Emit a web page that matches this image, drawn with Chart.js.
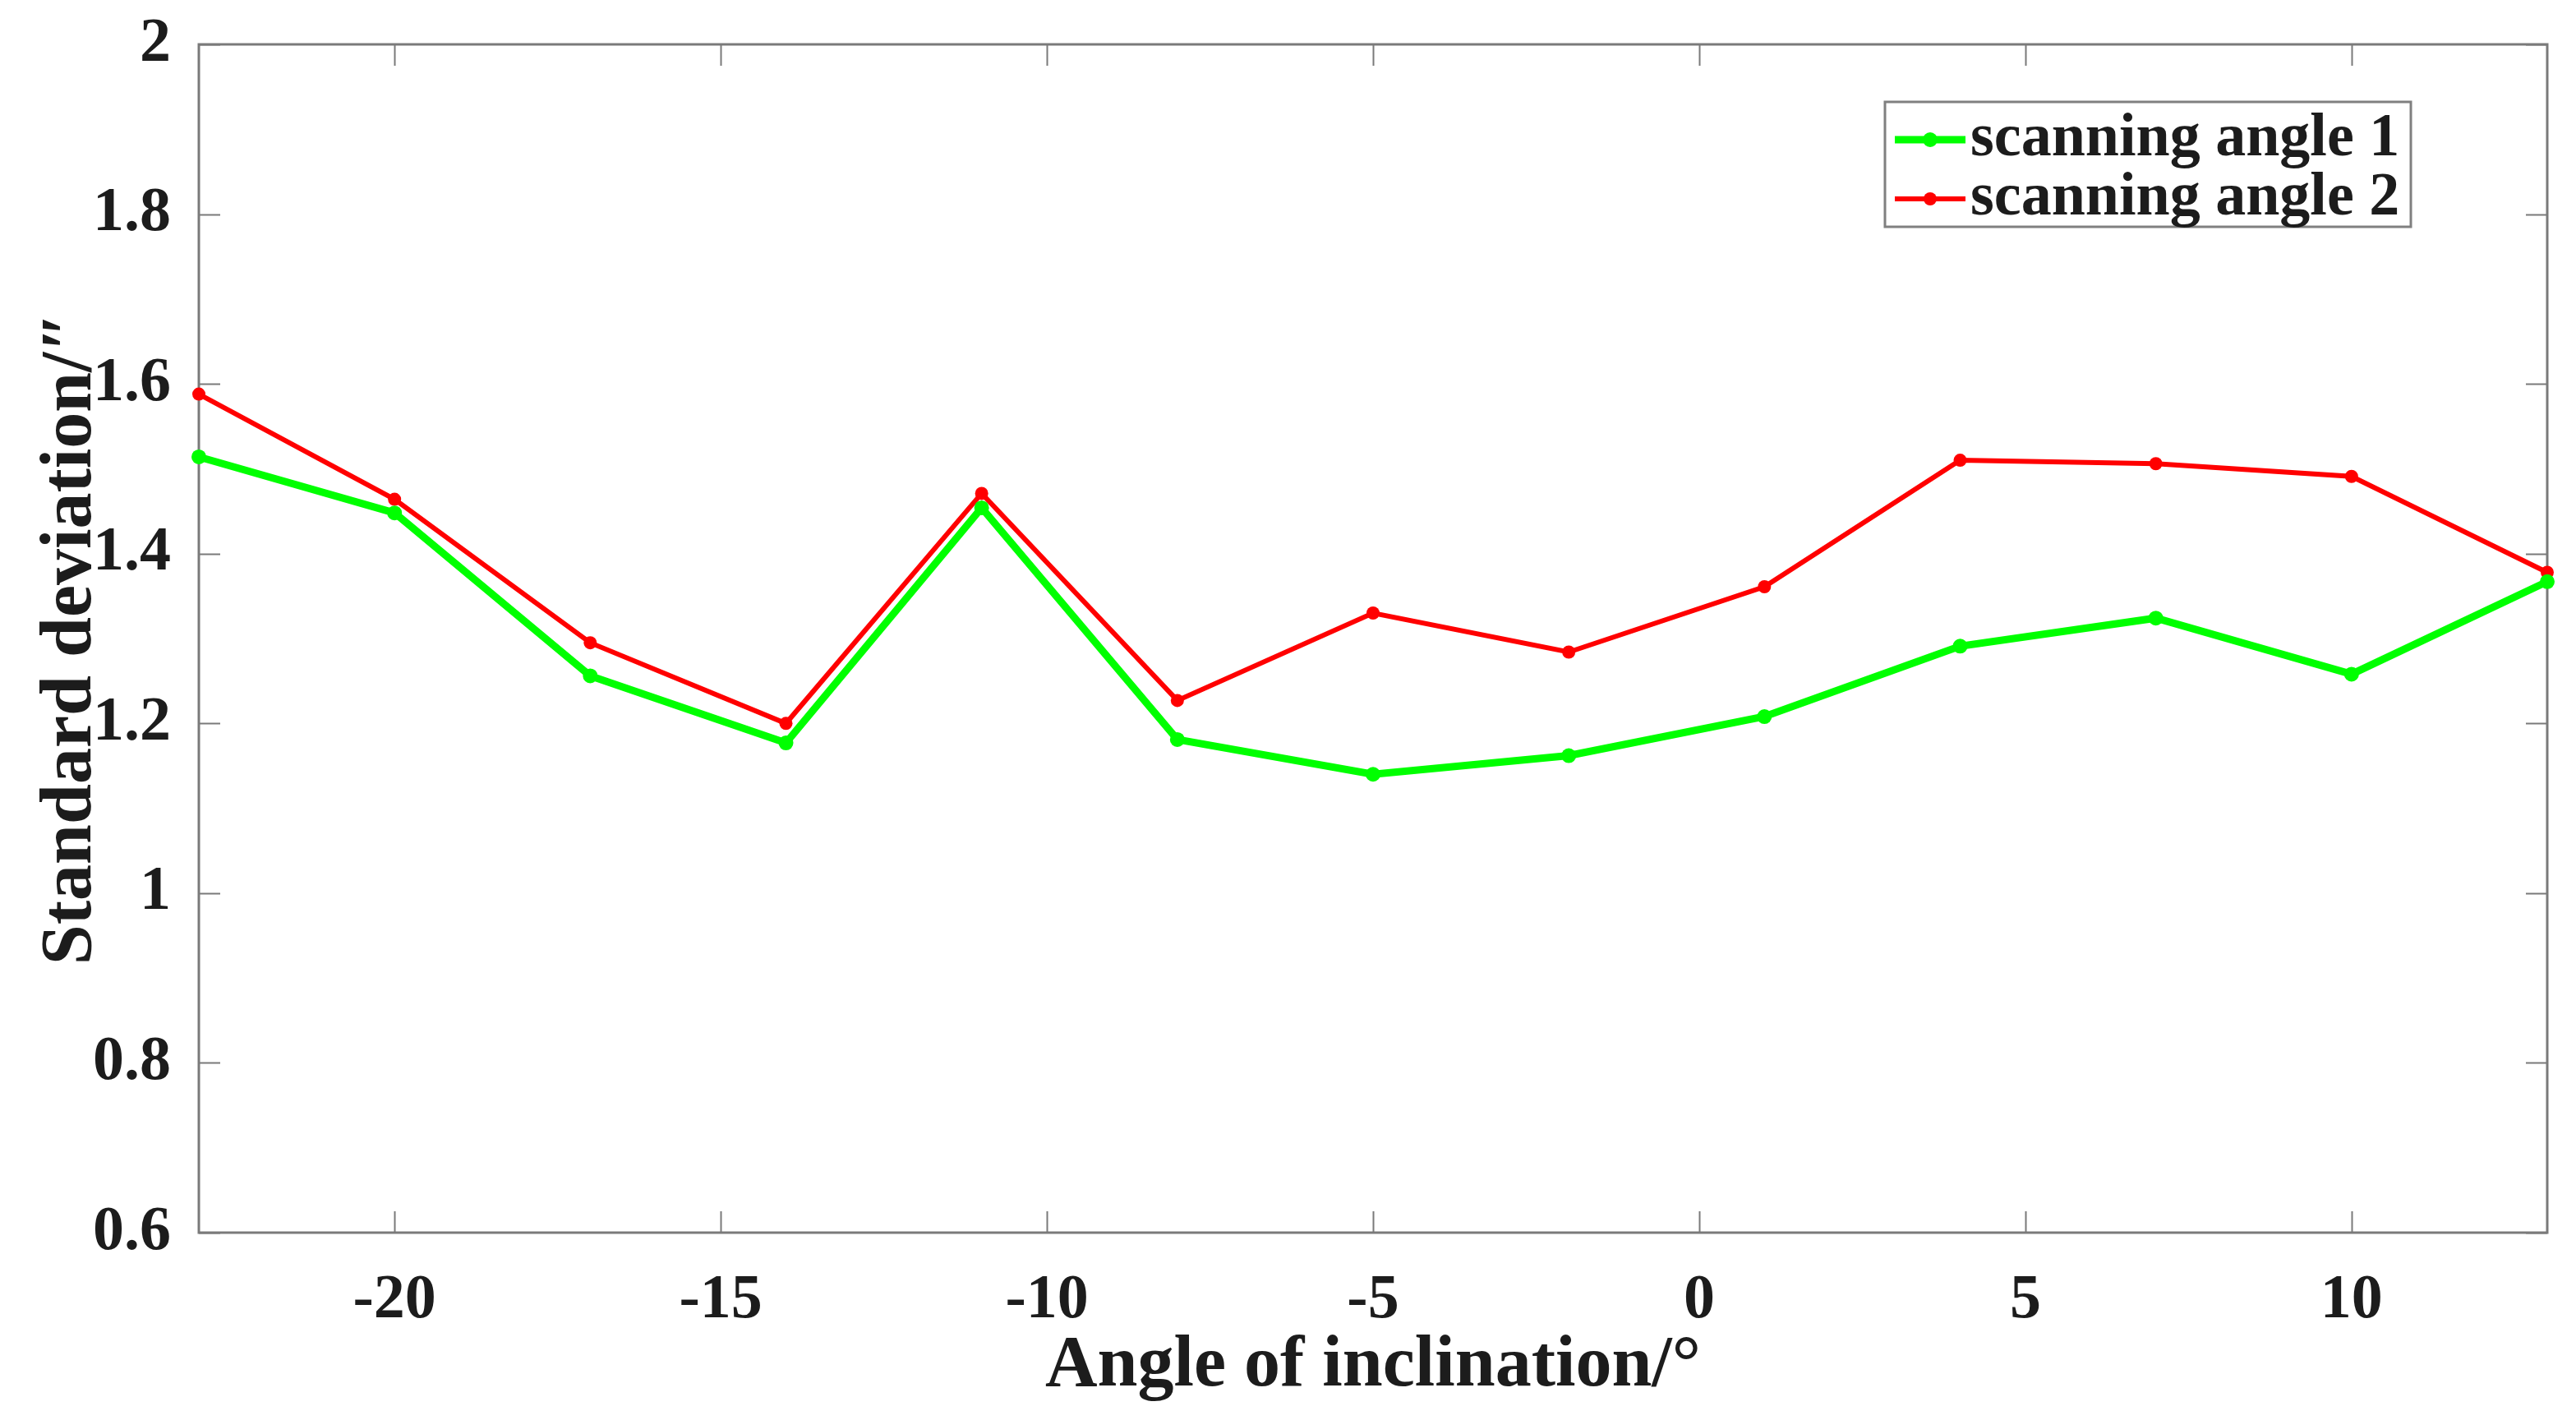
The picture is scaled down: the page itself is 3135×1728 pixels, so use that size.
<!DOCTYPE html>
<html>
<head>
<meta charset="utf-8">
<script src="https://cdn.jsdelivr.net/npm/chart.js@4.4.1/dist/chart.umd.min.js"></script>
<style>
html, body { margin: 0; padding: 0; background: #fff; }
</style>
</head>
<body>
<canvas id="myChart" width="3135" height="1728"></canvas>
<script>
'use strict';

// data
let angles = [-23, -20, -17, -14, -11, -8, -5, -2, 1, 4, 7, 10, 13];
let angle1Values = [1.514, 1.448, 1.256, 1.177, 1.454, 1.181, 1.140, 1.162, 1.208, 1.291, 1.324, 1.258, 1.367];
let angle2Values = [1.588, 1.464, 1.295, 1.200, 1.471, 1.227, 1.330, 1.284, 1.361, 1.510, 1.506, 1.491, 1.378];
let seriesNames = ['scanning angle 1', 'scanning angle 2'];

let xTicks = [-20, -15, -10, -5, 0, 5, 10];
let yTicks = [0.6, 0.8, 1, 1.2, 1.4, 1.6, 1.8, 2];

let fontName = '"Liberation Serif", "DejaVu Serif", serif';
let axisColor = '#7a7a7a';
let textColor = '#1c1c1c';

function makePoints(values) {
    let pts = [];
    for (let i = 0; i < angles.length; i++) {
        pts.push({ x: angles[i], y: values[i] });
    }
    return pts;
}

// box around the plot with inward ticks on all four sides
let boxPlugin = {
    id: 'boxTicks',
    beforeDatasetsDraw(chart) {
        let ctx = chart.ctx;
        let area = chart.chartArea;
        let xs = chart.scales.x;
        let ys = chart.scales.y;
        let len = 26;
        ctx.save();
        ctx.strokeStyle = axisColor;
        ctx.lineWidth = 3;
        ctx.strokeRect(area.left, area.top, area.right - area.left, area.bottom - area.top);
        ctx.lineWidth = 2;
        ctx.beginPath();
        for (let v of xTicks) {
            let px = Math.round(xs.getPixelForValue(v)) + 0.5;
            ctx.moveTo(px, area.bottom);
            ctx.lineTo(px, area.bottom - len);
            ctx.moveTo(px, area.top);
            ctx.lineTo(px, area.top + len);
        }
        for (let v of yTicks) {
            let py = Math.round(ys.getPixelForValue(v)) + 0.5;
            ctx.moveTo(area.left, py);
            ctx.lineTo(area.left + len, py);
            ctx.moveTo(area.right, py);
            ctx.lineTo(area.right - len, py);
        }
        ctx.stroke();
        ctx.restore();
    }
};

// legend box in the top right corner of the plot
let legendPlugin = {
    id: 'insideLegend',
    afterDraw(chart) {
        let ctx = chart.ctx;
        let left = 2294, top = 124, width = 640, height = 152;
        ctx.save();
        ctx.fillStyle = '#fff';
        ctx.fillRect(left, top, width, height);
        ctx.strokeStyle = '#808080';
        ctx.lineWidth = 3;
        ctx.strokeRect(left, top, width, height);
        chart.data.datasets.forEach(function (ds, i) {
            let cy = top + 46 + i * 72;
            ctx.strokeStyle = ds.borderColor;
            ctx.lineWidth = ds.borderWidth;
            ctx.beginPath();
            ctx.moveTo(left + 12, cy);
            ctx.lineTo(left + 98, cy);
            ctx.stroke();
            ctx.fillStyle = ds.borderColor;
            ctx.beginPath();
            ctx.arc(left + 55, cy, ds.pointRadius, 0, Math.PI * 2);
            ctx.fill();
            ctx.fillStyle = textColor;
            ctx.font = 'bold 74px ' + fontName;
            ctx.textBaseline = 'middle';
            ctx.fillText(ds.label, left + 104, cy);
        });
        ctx.restore();
    }
};

let ctx = document.getElementById('myChart').getContext('2d');
let myChart = new Chart(ctx, {
    type: 'line',
    data: {
        datasets: [{
            label: seriesNames[0],
            data: makePoints(angle1Values),
            borderColor: '#00ff00',
            backgroundColor: '#00ff00',
            borderWidth: 9,
            pointRadius: 9,
            pointBorderWidth: 0,
            clip: false
        }, {
            label: seriesNames[1],
            data: makePoints(angle2Values),
            borderColor: '#ff0000',
            backgroundColor: '#ff0000',
            borderWidth: 6,
            pointRadius: 8,
            pointBorderWidth: 0,
            clip: false
        }]
    },
    options: {
        responsive: false,
        animation: false,
        devicePixelRatio: 1,
        layout: { padding: { left: 0, right: 35, top: 54, bottom: 0 } },
        plugins: {
            legend: { display: false },
            tooltip: { enabled: false }
        },
        scales: {
            x: {
                type: 'linear',
                min: -23,
                max: 13,
                grid: { display: false },
                border: { display: false },
                afterBuildTicks: function (axis) {
                    axis.ticks = xTicks.map(v => ({ value: v }));
                },
                afterFit: function (axis) {
                    axis.height = 228;
                    axis.paddingLeft = 0;
                    axis.paddingRight = 0;
                },
                ticks: {
                    padding: 30,
                    color: textColor,
                    font: { family: fontName, size: 76, weight: 'bold' },
                    callback: v => String(v)
                },
                title: {
                    display: true,
                    text: 'Angle of inclination/°',
                    color: textColor,
                    font: { family: fontName, size: 88, weight: 'bold' },
                    padding: { top: 0, bottom: 12 }
                }
            },
            y: {
                min: 0.6,
                max: 2,
                grid: { display: false },
                border: { display: false },
                afterBuildTicks: function (axis) {
                    axis.ticks = yTicks.map(v => ({ value: v }));
                },
                afterFit: function (axis) {
                    axis.width = 242;
                    axis.paddingTop = 0;
                    axis.paddingBottom = 0;
                },
                ticks: {
                    padding: 26,
                    color: textColor,
                    font: { family: fontName, size: 76, weight: 'bold' },
                    callback: v => String(Number(v.toFixed(1)))
                },
                title: {
                    display: true,
                    text: 'Standard deviation/″',
                    color: textColor,
                    font: { family: fontName, size: 88, weight: 'bold' },
                    padding: { top: 34, bottom: 0 }
                }
            }
        }
    },
    plugins: [boxPlugin, legendPlugin]
});
</script>
</body>
</html>
